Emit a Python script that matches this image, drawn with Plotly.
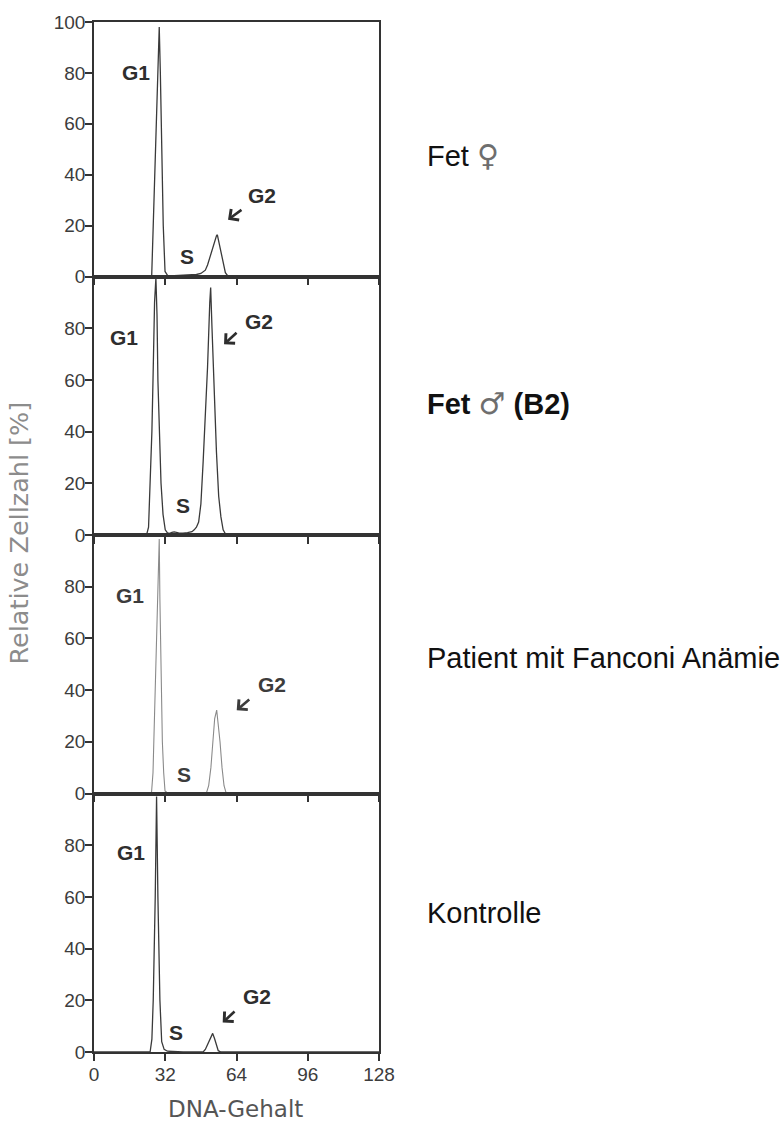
import plotly.graph_objects as go

# ---------------- data ----------------
x_ticks = [0, 32, 64, 96, 128]
y_ticks_top = [0, 20, 40, 60, 80, 100]
y_ticks = [0, 20, 40, 60, 80]

panel_names = ["Fet ♀", "Fet ♂ (B2)", "Patient mit Fanconi Anämie", "Kontrolle"]

fet_w_x = [0, 24, 25.9, 26.6, 27.5, 28.3, 29.3, 29.8, 30.3, 30.8,
           31.1, 31.9, 33, 34, 38, 42, 46, 48, 50, 51,
           52, 53, 54, 55, 55.4, 56, 57, 58, 59, 60,
           62, 128]
fet_w_y = [0, 0, 0, 20, 45, 70, 98, 80, 55, 35,
           20, 2, 0.5, 0.2, 0.3, 0.5, 0.8, 1.2, 2.5, 4.5,
           7.5, 11, 14, 16, 16.4, 14, 10, 5, 1.5, 0.3,
           0, 0]

fet_m_x = [0, 22, 23.6, 24.5, 25.2, 26, 26.5, 27.2, 27.8, 28.3,
           28.7, 29.4, 30.1, 31, 32, 33, 34, 35, 36, 38,
           40, 42, 44, 45, 46, 47, 48, 49, 50, 51,
           52, 52.4, 53, 54, 55, 56, 57, 58, 59, 60,
           128]
fet_m_y = [0, 0, 0, 3, 20, 40, 60, 90, 99.5, 85,
           60, 35, 20, 8, 2, 0.8, 0.6, 1.0, 1.2, 0.8,
           0.7, 0.9, 1.3, 2, 3, 5, 12, 28, 45, 65,
           90, 95.7, 80, 52, 32, 15, 7, 2, 0.5, 0,
           0]

fa_x = [0, 25, 25.8, 26.5, 26.9, 27.5, 28.1, 28.8, 29.3, 29.6,
        30, 30.7, 31.3, 31.9, 33, 40, 48, 50, 50.6, 51.5,
        52.5, 53.3, 54.2, 55.1, 55.8, 56.6, 57.5, 58.4, 59.3, 60,
        128]
fa_y = [0, 0, 0, 8, 20, 38, 60, 85, 98.5, 75,
        50, 20, 8, 1, 0.2, 0.1, 0.1, 0, 0.5, 3,
        10, 20, 29, 32.3, 27, 20, 10, 3, 0.3, 0,
        0]

ko_x = [0, 24.5, 25.2, 26, 26.6, 27.5, 28.1, 28.7, 29.6, 30.4,
        31.5, 33, 36, 40, 46, 49, 50, 51, 52, 53.3,
        54.2, 55, 55.8, 57, 128]
ko_y = [0, 0, 0, 5, 20, 60, 98.8, 60, 20, 4,
        1, 0.3, 0.1, 0, 0, 0, 1, 3, 5, 7.2,
        5, 2.5, 0.5, 0, 0]

series_x = [fet_w_x, fet_m_x, fa_x, ko_x]
series_y = [fet_w_y, fet_m_y, fa_y, ko_y]

# ---------------- styling / layout ----------------
line_colors = ["#3a3a3a", "#3a3a3a", "#8a8a8a", "#3a3a3a"]
line_widths = [1.3, 1.3, 1.1, 1.3]
label_colors = ["#2e2e2e", "#2e2e2e", "#3c3c3c", "#2e2e2e"]

# plot area: x 94..379 px, y 16..1052 px
H_PLOT = 1036.0
panel_px = [(16, 272), (272, 532), (532, 792), (792, 1052)]
domains = [[(1052 - b) / H_PLOT, (1052 - t) / H_PLOT] for (t, b) in panel_px]

# label placements (data coords per panel): G1, S, G2, arrow tail, arrow head
label_pos = [
    dict(g1=(18.9, 80), s=(41.7, 8), g2=(75.4, 32), tail=(66.9, 26.6), head=(60.2, 22.3)),
    dict(g1=(13.5, 76.5), s=(39.9, 11.3), g2=(74.1, 82.7), tail=(64.7, 78.8), head=(58.4, 73.8)),
    dict(g1=(16.2, 76.7), s=(40.4, 7.5), g2=(79.9, 42.1), tail=(70.4, 36.9), head=(64.1, 32.2)),
    dict(g1=(16.6, 77.3), s=(36.8, 7.5), g2=(73.3, 21.3), tail=(63.8, 16.2), head=(57.8, 11.4)),
]
right_label_y_px = [150, 400, 656, 912]

fig = go.Figure()
axis_font = dict(family="Liberation Sans, Arial, sans-serif", size=19, color="#3c3c3c")

for i in range(4):
    n = i + 1
    xa = "x" if n == 1 else f"x{n}"
    ya = "y" if n == 1 else f"y{n}"
    fig.add_trace(go.Scatter(
        x=series_x[i], y=series_y[i], mode="lines",
        line=dict(color=line_colors[i], width=line_widths[i]),
        xaxis=xa, yaxis=ya, showlegend=False, hoverinfo="skip"))

    fig.update_layout(**{
        f"xaxis{'' if n == 1 else n}": dict(
            domain=[0, 1], anchor=ya, range=[0, 128],
            tickvals=x_ticks, ticktext=[str(v) for v in x_ticks],
            ticks="outside", ticklen=7, tickwidth=1.5, tickcolor="#333",
            showticklabels=(n == 4), tickfont=axis_font, ticklabelstandoff=-3,
            showline=True, linecolor="#333", linewidth=1.6, mirror=True,
            showgrid=False, zeroline=False, fixedrange=True),
        f"yaxis{'' if n == 1 else n}": dict(
            domain=domains[i], anchor=xa, range=[0, 100],
            tickvals=(y_ticks_top if n == 1 else y_ticks),
            ticks="outside", ticklen=7, tickwidth=1.5, tickcolor="#333",
            tickfont=axis_font, ticklabelstandoff=-4,
            showline=True, linecolor="#333", linewidth=1.6, mirror=True,
            showgrid=False, zeroline=False, fixedrange=True),
    })

annotations = []
lab_font_family = "Liberation Sans, Arial, sans-serif"
for i in range(4):
    n = i + 1
    xa = "x" if n == 1 else f"x{n}"
    ya = "y" if n == 1 else f"y{n}"
    p = label_pos[i]
    for key, txt in (("g1", "G1"), ("s", "S"), ("g2", "G2")):
        annotations.append(dict(
            x=p[key][0], y=p[key][1], xref=xa, yref=ya, text=f"<b>{txt}</b>",
            showarrow=False, xanchor="center", yanchor="middle",
            font=dict(family=lab_font_family, size=21, color=label_colors[i])))
    annotations.append(dict(
        x=p["head"][0], y=p["head"][1], xref=xa, yref=ya,
        ax=p["tail"][0], ay=p["tail"][1], axref=xa, ayref=ya,
        text="", showarrow=True, arrowhead=4, arrowsize=1, arrowwidth=2.6,
        arrowcolor=label_colors[i]))

# right-hand panel names
sym = "color:#6e6e6e;font-weight:normal;font-family:DejaVu Sans;font-size:30px"
right_texts = [
    f"Fet <span style='{sym}'>♀</span>",
    f"<b>Fet </b><span style='{sym}'>♂</span><b> (B2)</b>",
    panel_names[2],
    panel_names[3],
]
for txt, ypx in zip(right_texts, right_label_y_px):
    annotations.append(dict(
        x=(425 - 94) / 285.0, y=(1052 - ypx) / H_PLOT, xref="paper", yref="paper",
        text=txt, showarrow=False, xanchor="left", yanchor="middle",
        font=dict(family=lab_font_family, size=29, color="#111")))

# axis titles
annotations.append(dict(
    x=(19.5 - 94) / 285.0, y=(1052 - 530) / H_PLOT, xref="paper", yref="paper",
    text="Relative Zellzahl [%]", textangle=-90, showarrow=False,
    xanchor="center", yanchor="middle",
    font=dict(family="DejaVu Sans, sans-serif", size=25.5, color="#8c8c8c")))
annotations.append(dict(
    x=(235 - 94) / 285.0, y=(1052 - 1109) / H_PLOT, xref="paper", yref="paper",
    text="DNA-Gehalt", showarrow=False, xanchor="center", yanchor="middle",
    font=dict(family="DejaVu Sans, sans-serif", size=23, color="#555")))

fig.update_layout(
    width=783, height=1124,
    margin=dict(l=94, r=404, t=16, b=72, pad=0),
    paper_bgcolor="white", plot_bgcolor="white",
    annotations=annotations, showlegend=False,
)

fig.write_html("out.html", config={"displayModeBar": False})
